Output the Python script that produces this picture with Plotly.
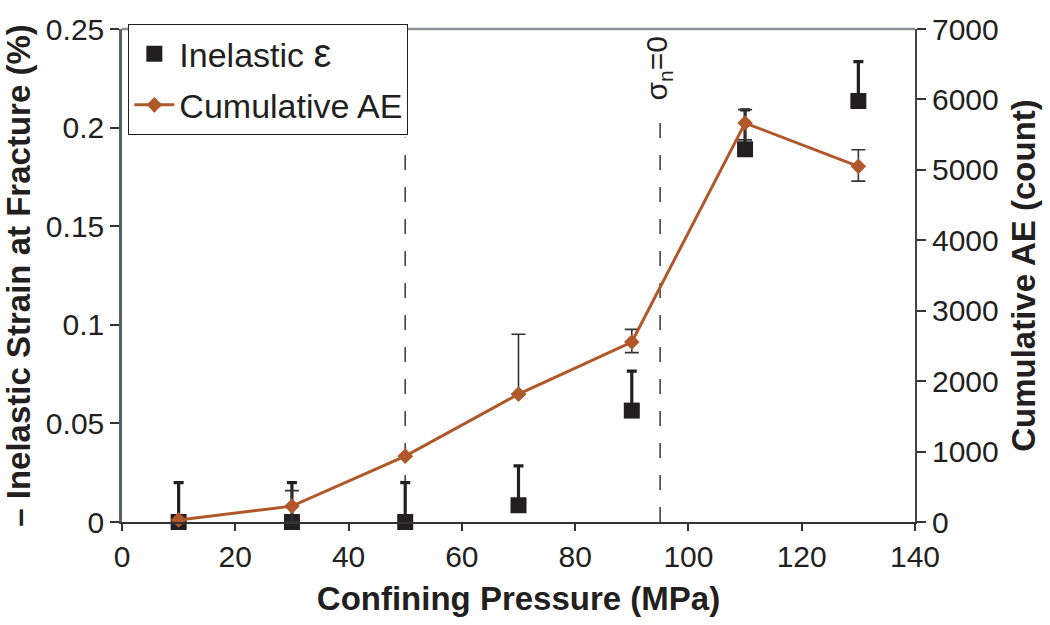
import plotly.graph_objects as go

# Confining pressure for each test (MPa)
pressure = [10, 30, 50, 70, 90, 110, 130]

# Inelastic strain at fracture (%) and its (upper) error
inelastic_strain = [0.0, 0.0, 0.0, 0.0085, 0.0565, 0.189, 0.2135]
inelastic_err = [0.02, 0.02, 0.02, 0.02, 0.02, 0.02, 0.02]

# Cumulative acoustic emission counts with upper/lower errors
cumulative_ae = [30, 225, 935, 1815, 2555, 5665, 5050]
ae_err_plus = [0, 220, 0, 850, 180, 190, 235]
ae_err_minus = [0, 220, 0, 0, 150, 240, 210]

# Reference pressures marked with dashed lines
transition_pressures = [50, 95]
transition_tops = [0.195, 0.206]

FONT = "Liberation Sans, Arial, sans-serif"
AE_COLOR = "#B0582A"
SQ_COLOR = "#231F20"

fig = go.Figure()

fig.add_trace(go.Scatter(
    x=pressure, y=inelastic_strain,
    mode="markers",
    name="Inelastic <span style='font-size:40px'>ε</span>",
    marker=dict(symbol="square", size=16, color=SQ_COLOR),
    error_y=dict(type="data", array=inelastic_err, symmetric=False,
                 arrayminus=[0] * len(pressure),
                 color=SQ_COLOR, thickness=3.2, width=5),
    cliponaxis=False,
    legendgroup="a",
))

fig.add_trace(go.Scatter(
    x=pressure, y=cumulative_ae,
    mode="lines+markers",
    name="Cumulative AE",
    yaxis="y2",
    line=dict(color=AE_COLOR, width=3),
    marker=dict(symbol="diamond", size=12, color=AE_COLOR),
    error_y=dict(type="data", array=ae_err_plus, arrayminus=ae_err_minus,
                 symmetric=False, color="#333333", thickness=1.6, width=7),
    cliponaxis=False,
    legendgroup="b",
))

shapes = []
for xp, top in zip(transition_pressures, transition_tops):
    shapes.append(dict(type="line", xref="x", yref="y", x0=xp, x1=xp, y0=0, y1=top,
                       line=dict(color="#444444", width=1.6, dash="15px,17px"),
                       layer="below"))
# top border of the frame
shapes.append(dict(type="line", xref="paper", yref="paper", x0=0, x1=1, y0=1, y1=1,
                   line=dict(color="#8A9096", width=2.5)))

fig.update_layout(
    width=1050, height=625,
    margin=dict(l=122, r=135, t=20, b=103),
    paper_bgcolor="white", plot_bgcolor="white",
    font=dict(family=FONT, color="#231F20", size=30),
    showlegend=True,
    legend=dict(x=0.008, y=1.01, xanchor="left", yanchor="top",
                bgcolor="white", bordercolor="#231F20", borderwidth=1,
                font=dict(size=34), tracegroupgap=4, itemwidth=40),
    xaxis=dict(range=[0, 140], dtick=20, tick0=0,
               showgrid=False, zeroline=False,
               showline=True, linecolor="#333333", linewidth=2,
               ticks="outside", ticklen=7, tickcolor="#333333", tickwidth=1.5,
               tickfont=dict(size=30),
               title=dict(text="<b>Confining Pressure (MPa)</b>", font=dict(size=33))),
    yaxis=dict(range=[0, 0.25], dtick=0.05, tick0=0,
               showgrid=False, zeroline=False,
               showline=True, linecolor="#5A5F63", linewidth=2.5,
               ticks="outside", ticklen=9, tickcolor="#333333", tickwidth=1.5,
               tickfont=dict(size=30),
               title=dict(text="<b>– Inelastic Strain at Fracture (%)</b>", font=dict(size=33),
                          standoff=6)),
    yaxis2=dict(range=[0, 7000], dtick=1000, tick0=0, overlaying="y", side="right",
                showgrid=False, zeroline=False,
                showline=True, linecolor="#444444", linewidth=2,
                ticks="outside", ticklen=9, tickcolor="#333333", tickwidth=1.5,
                tickfont=dict(size=30),
                title=dict(text="<b>Cumulative AE (count)</b>", font=dict(size=33),
                           standoff=14)),
    shapes=shapes,
    annotations=[dict(x=transition_pressures[1], y=0.92, xref="x", yref="paper",
                      text="σ<sub>n</sub>=0", textangle=-90, showarrow=False,
                      font=dict(size=30), xanchor="center", yanchor="middle",
                      xshift=-2)],
)

fig.write_html("out.html")
